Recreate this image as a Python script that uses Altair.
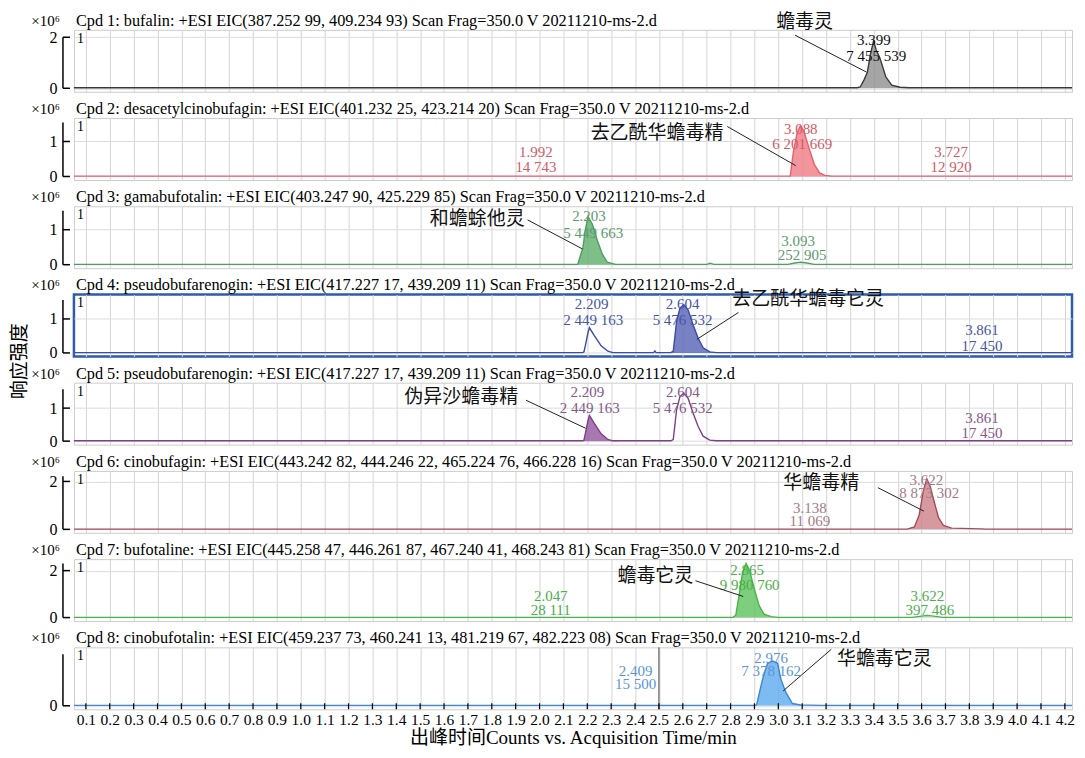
import altair as alt
import pandas as pd

SERIF = "Liberation Serif"
CJK = "Noto Sans CJK SC"
MIXED = "Liberation Serif, Noto Sans CJK SC"

X_TICKS = [0.1, 0.2, 0.3, 0.4, 0.5, 0.6, 0.7, 0.8, 0.9, 1.0, 1.1, 1.2, 1.3, 1.4,
           1.5, 1.6, 1.7, 1.8, 1.9, 2.0, 2.1, 2.2, 2.3, 2.4, 2.5, 2.6, 2.7, 2.8,
           2.9, 3.0, 3.1, 3.2, 3.3, 3.4, 3.5, 3.6, 3.7, 3.8, 3.9, 4.0, 4.1, 4.2]
X_DOMAIN = [0.05, 4.23]

TITLES = [
    "Cpd 1: bufalin: +ESI EIC(387.252 99, 409.234 93) Scan Frag=350.0 V 20211210-ms-2.d",
    "Cpd 2: desacetylcinobufagin: +ESI EIC(401.232 25, 423.214 20) Scan Frag=350.0 V 20211210-ms-2.d",
    "Cpd 3: gamabufotalin: +ESI EIC(403.247 90, 425.229 85) Scan Frag=350.0 V 20211210-ms-2.d",
    "Cpd 4: pseudobufarenogin: +ESI EIC(417.227 17, 439.209 11) Scan Frag=350.0 V 20211210-ms-2.d",
    "Cpd 5: pseudobufarenogin: +ESI EIC(417.227 17, 439.209 11) Scan Frag=350.0 V 20211210-ms-2.d",
    "Cpd 6: cinobufagin: +ESI EIC(443.242 82, 444.246 22, 465.224 76, 466.228 16) Scan Frag=350.0 V 20211210-ms-2.d",
    "Cpd 7: bufotaline: +ESI EIC(445.258 47, 446.261 87, 467.240 41, 468.243 81) Scan Frag=350.0 V 20211210-ms-2.d",
    "Cpd 8: cinobufotalin: +ESI EIC(459.237 73, 460.241 13, 481.219 67, 482.223 08) Scan Frag=350.0 V 20211210-ms-2.d",
]

# y ranges (x10^6 counts) and ticks per panel
Y_DOMAINS = [[-0.137, 2.29], [-0.1, 1.67], [-0.1, 1.67], [-0.103, 1.72],
             [-0.106, 1.77], [-0.146, 2.44], [-0.149, 2.49], [-0.092, 1.54]]
Y_TICKS = [[0, 2], [0, 1], [0, 1], [0, 1], [0, 1], [0, 2], [0, 2], [0]]
BRACKET_TOP = [2.0, 1.54, 1.54, 1.56, 1.57, 2.22, 2.3, 1.36]

# chromatogram traces: retention time (min) and intensity (x10^6)
T1 = [0.05, 3.33, 3.343, 3.36, 3.373, 3.385, 3.399, 3.41, 3.425, 3.45, 3.475, 3.51, 3.55, 4.23]
V1 = [0.02, 0.02, 0.05, 0.35, 0.63, 1.3, 1.85, 1.5, 1.2, 0.45, 0.12, 0.04, 0.02, 0.02]

T2 = [0.05, 3.05, 3.063, 3.078, 3.092, 3.107, 3.129, 3.151, 3.173, 3.195, 3.225, 4.23]
V2 = [0.01, 0.01, 0.7, 1.22, 1.45, 1.3, 0.8, 0.34, 0.1, 0.03, 0.01, 0.01]

T3 = [0.05, 2.16, 2.173, 2.182, 2.191, 2.203, 2.221, 2.242, 2.263, 2.284, 2.318,
      2.70, 2.715, 2.73, 3.04, 3.07, 3.093, 3.12, 3.15, 4.23]
V3 = [0.01, 0.01, 0.3, 0.5, 0.97, 1.37, 1.16, 0.69, 0.3, 0.07, 0.01,
      0.01, 0.04, 0.01, 0.01, 0.05, 0.07, 0.05, 0.01, 0.01]

T4 = [0.05, 2.18, 2.186, 2.193, 2.203, 2.209, 2.23, 2.258, 2.286, 2.307, 2.33,
      2.478, 2.483, 2.488, 2.55, 2.56, 2.574, 2.588, 2.604, 2.622, 2.643, 2.664,
      2.685, 2.713, 2.74, 4.23]
V4 = [0.01, 0.01, 0.03, 0.25, 0.6, 0.74, 0.5, 0.21, 0.05, 0.01, 0.01,
      0.01, 0.06, 0.01, 0.01, 0.05, 0.93, 1.32, 1.42, 1.27, 0.83, 0.44,
      0.15, 0.03, 0.01, 0.01]

T5 = [0.05, 2.18, 2.186, 2.193, 2.203, 2.209, 2.23, 2.258, 2.286, 2.307, 2.33,
      2.55, 2.56, 2.574, 2.588, 2.604, 2.622, 2.643, 2.664, 2.685, 2.713, 2.74, 4.23]
V5 = [0.01, 0.01, 0.03, 0.27, 0.63, 0.78, 0.53, 0.22, 0.05, 0.01, 0.01,
      0.01, 0.05, 0.95, 1.35, 1.45, 1.3, 0.85, 0.45, 0.15, 0.03, 0.01, 0.01]

T6 = [0.05, 3.135, 3.14, 3.145, 3.54, 3.57, 3.59, 3.608, 3.622, 3.636, 3.655,
      3.671, 3.692, 3.726, 3.85, 3.87, 4.23]
V6 = [0.01, 0.01, 0.02, 0.01, 0.01, 0.1, 0.6, 1.64, 2.1, 1.8, 1.07,
      0.49, 0.16, 0.05, 0.02, 0.01, 0.01]

T7 = [0.05, 2.81, 2.822, 2.835, 2.85, 2.865, 2.88, 2.9, 2.92, 2.94, 2.97, 3.0,
      3.56, 3.6, 3.622, 3.65, 3.69, 4.23]
V7 = [0.01, 0.01, 0.1, 0.9, 1.9, 2.3, 2.0, 1.2, 0.5, 0.15, 0.04, 0.01,
      0.01, 0.06, 0.09, 0.06, 0.01, 0.01]

T8 = [0.05, 2.905, 2.91, 2.934, 2.955, 2.976, 2.997, 3.011, 3.031, 3.059, 3.094, 3.18, 4.23]
V8 = [0.01, 0.01, 0.05, 0.7, 1.12, 1.18, 1.12, 0.7, 0.36, 0.06, 0.02, 0.01, 0.01]

TRACES = [(T1, V1), (T2, V2), (T3, V3), (T4, V4), (T5, V5), (T6, V6), (T7, V7), (T8, V8)]

# filled peak windows (min)
FILL_RANGES = [[3.33, 3.55], [3.05, 3.225], [2.16, 2.318], [2.55, 2.74],
               [2.18, 2.33], [3.54, 3.726], [2.81, 3.0], [2.905, 3.094]]

# peak labels: (text, time, height)
LABELS = [
    [("3.399", 3.40, 1.88), ("7 455 539", 3.41, 1.25)],
    [("1.992", 1.985, 0.69), ("14 743", 1.985, 0.26), ("3.088", 3.094, 1.37),
     ("6 201 669", 3.10, 0.94), ("3.727", 3.724, 0.69), ("12 920", 3.724, 0.26)],
    [("2.203", 2.207, 1.40), ("5 449 663", 2.225, 0.92), ("3.093", 3.083, 0.69),
     ("252 905", 3.10, 0.29)],
    [("2.209", 2.218, 1.44), ("2 449 163", 2.225, 0.97), ("2.604", 2.599, 1.43),
     ("5 476 532", 2.599, 0.97), ("3.861", 3.853, 0.68), ("17 450", 3.853, 0.21)],
    [("2.209", 2.20, 1.48), ("2 449 163", 2.21, 1.0), ("2.604", 2.60, 1.48),
     ("5 476 532", 2.60, 1.0), ("3.861", 3.853, 0.70), ("17 450", 3.853, 0.24)],
    [("3.622", 3.62, 2.08), ("8 873 302", 3.632, 1.53), ("3.138", 3.132, 0.90),
     ("11 069", 3.132, 0.35)],
    [("2.865", 2.869, 2.04), ("9 980 760", 2.88, 1.40), ("2.047", 2.047, 0.94),
     ("28 111", 2.047, 0.34), ("3.622", 3.624, 0.94), ("397 486", 3.635, 0.34)],
    [("2.976", 2.97, 1.27), ("7 378 162", 2.97, 0.92), ("2.409", 2.402, 0.92),
     ("15 500", 2.402, 0.57)],
]

# compound names (text, time, height) and leader lines (t1, v1, t2, v2)
NAMES = [("蟾毒灵", 3.11, 2.59), ("去乙酰华蟾毒精", 2.492, 1.25), ("和蟾蜍他灵", 1.739, 1.31),
         ("去乙酰华蟾毒它灵", 3.125, 1.58), ("伪异沙蟾毒精", 1.672, 1.33), ("华蟾毒精", 3.18, 1.95),
         ("蟾毒它灵", 2.485, 1.79), ("华蟾毒它灵", 3.444, 1.23)]
LEADERS = [(3.07, 2.08, 3.37, 0.63), (2.786, 1.43, 3.073, 0.31), (1.95, 1.28, 2.18, 0.45),
           (2.833, 1.19, 2.659, 0.40), (1.943, 1.24, 2.193, 0.39), (3.417, 1.74, 3.61, 0.76),
           (2.653, 1.57, 2.853, 0.90), (3.222, 1.49, 3.02, 0.39)]

# colours: (trace line, peak fill, label text)
COLORS = [("#3a3a3a", "#8e8e8e", "#111111"), ("#e8606e", "#f07a84", "#d45a66"),
          ("#4e9e62", "#5cae6c", "#5e9a6e"), ("#3b4ba6", "#5561b4", "#4656a6"),
          ("#7e3f86", "#9456a0", "#84588a"), ("#a84a58", "#cc8088", "#a47c84"),
          ("#46b446", "#5cc25c", "#4cae4c"), ("#3c88d4", "#5eaaec", "#5a96d6")]

W, H = 999, 62


def panel(i):
    last = i == 7
    line_c, fill_c, text_c = COLORS[i]
    xs = alt.Scale(domain=X_DOMAIN, nice=False, zero=False)
    ys = alt.Scale(domain=Y_DOMAINS[i], nice=False, zero=False)
    if last:
        xaxis = alt.Axis(values=X_TICKS, grid=True, gridColor="#d4d4d4", ticks=False,
                         domain=False, labels=True, labelFont=SERIF, labelFontSize=15.5,
                         labelColor="black", labelPadding=3, format=".1f",
                         labelOverlap=False, labelFlush=False,
                         title="出峰时间Counts vs. Acquisition Time/min",
                         titleFont=MIXED, titleFontSize=19, titleFontWeight="normal",
                         titleColor="black", titlePadding=1)
    else:
        xaxis = alt.Axis(values=X_TICKS, grid=True, gridColor="#d4d4d4", ticks=False,
                         domain=False, labels=False, title=None)
    yaxis = alt.Axis(values=Y_TICKS[i], grid=True, gridColor="#dcdcdc", ticks=False,
                     domain=False, labelPadding=17, labelFont=SERIF, labelFontSize=16,
                     labelColor="black", format="d", title=None)

    def X(f):
        return alt.X(f, type="quantitative", scale=xs, axis=xaxis)

    def Y(f):
        return alt.Y(f, type="quantitative", scale=ys, axis=yaxis)

    t, v = TRACES[i]
    trace = pd.DataFrame({"t": t, "v": v})
    lo, hi = FILL_RANGES[i]

    layers = []
    area = alt.Chart(trace).mark_area(color=fill_c, opacity=0.8).encode(
        x=X("t"), y=Y("v"), y2=alt.datum(0)
    ).transform_filter(alt.FieldRangePredicate(field="t", range=[lo, hi]))
    layers.append(area)
    line = alt.Chart(trace).mark_line(color=line_c, strokeWidth=1.4).encode(x=X("t"), y=Y("v"))
    layers.append(line)

    if last:
        marker = pd.DataFrame({"t": [2.5]})
        layers.append(alt.Chart(marker).mark_rule(color="#444444", strokeWidth=1).encode(
            x=X("t"), y=alt.value(0), y2=alt.value(H)))
        ticks = pd.DataFrame({"t": X_TICKS})
        layers.append(alt.Chart(ticks).mark_rule(color="black", strokeWidth=1.2).encode(
            x=X("t"), y=alt.value(H), y2=alt.value(H - 6)))

    br = pd.DataFrame({"a": [0], "b": [BRACKET_TOP[i]]})
    layers.append(alt.Chart(br).mark_rule(color="black", strokeWidth=1.5).encode(
        x=alt.value(-11), y=Y("a"), y2="b"))
    caps = pd.DataFrame({"a": Y_TICKS[i]})
    layers.append(alt.Chart(caps).mark_rule(color="black", strokeWidth=1.5).encode(
        x=alt.value(-11), x2=alt.value(-4), y=Y("a")))

    lab = pd.DataFrame(LABELS[i], columns=["txt", "t", "v"])
    layers.append(alt.Chart(lab).mark_text(font=SERIF, fontSize=15, color=text_c).encode(
        x=X("t"), y=Y("v"), text="txt:N"))

    nm = pd.DataFrame([NAMES[i]], columns=["txt", "t", "v"])
    layers.append(alt.Chart(nm).mark_text(font=CJK, fontSize=19, color="#111111").encode(
        x=X("t"), y=Y("v"), text="txt:N"))
    ld = pd.DataFrame([LEADERS[i]], columns=["t1", "v1", "t2", "v2"])
    layers.append(alt.Chart(ld).mark_rule(color="#222222", strokeWidth=1).encode(
        x=X("t1"), y=Y("v1"), x2="t2", y2="v2"))

    # panel header, scale factor and trace index
    layers.append(alt.Chart(br).mark_text(font=SERIF, fontSize=16.3, align="left",
                                          baseline="middle", color="black").encode(
        x=alt.value(2), y=alt.value(-9), text=alt.value(TITLES[i])))
    layers.append(alt.Chart(br).mark_text(font=SERIF, fontSize=15, align="right",
                                          baseline="middle", color="black").encode(
        x=alt.value(-14), y=alt.value(-9), text=alt.value("×10⁶")))
    layers.append(alt.Chart(br).mark_text(font=SERIF, fontSize=14, align="left",
                                          color="black").encode(
        x=alt.value(3), y=alt.value(9), text=alt.value("1")))

    if i == 3:
        view = alt.ViewBackground(stroke="#2e5caa", strokeWidth=2.5)
    else:
        view = alt.ViewBackground(stroke="#cccccc", strokeWidth=1)

    return alt.layer(*layers).properties(width=W, height=H, view=view)


chart = alt.vconcat(*[panel(i) for i in range(8)], spacing=26.3, bounds="flush").properties(
    title=alt.TitleParams(text="响应强度", orient="left", anchor="middle", font=CJK,
                          fontSize=19, fontWeight="normal", color="black", offset=0, dx=19),
    padding={"left": 3, "right": 0, "top": 3.5, "bottom": 0},
).configure(background="white")

chart.save("out.html", embed_options={"renderer": "svg", "actions": False})
